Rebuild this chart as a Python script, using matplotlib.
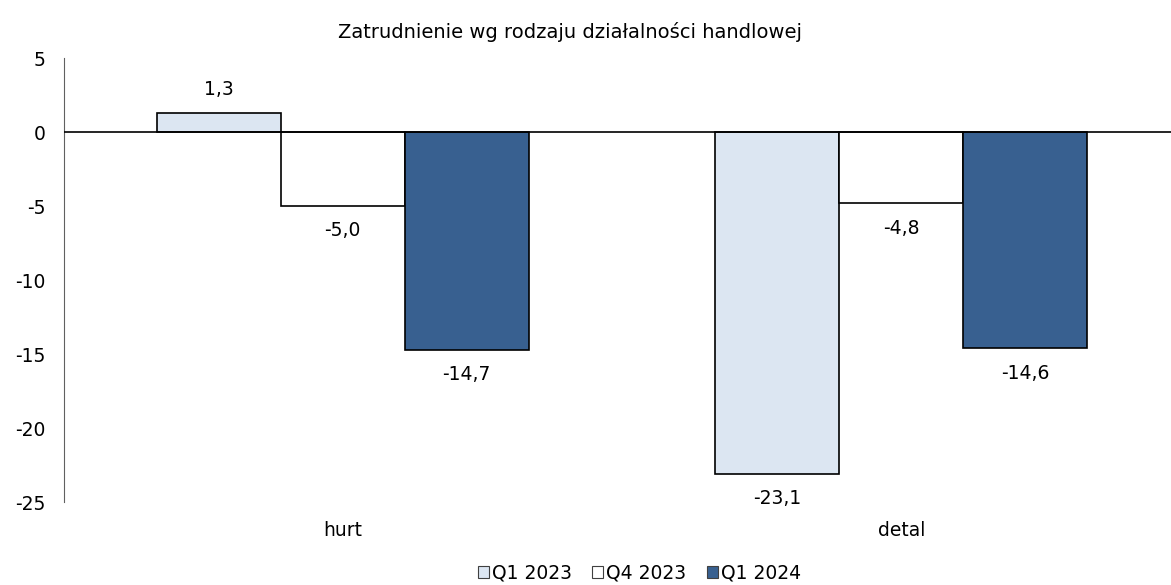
import matplotlib
matplotlib.use('Agg')
import matplotlib.pyplot as plt
import numpy as np

# chart data
categories = ['hurt', 'detal']
series_names = ['Q1 2023', 'Q4 2023', 'Q1 2024']
q1_2023 = [1.3, -23.1]
q4_2023 = [-5.0, -4.8]
q1_2024 = [-14.7, -14.6]
y_ticks = [5, 0, -5, -10, -15, -20, -25]

colors = ['#dce6f2', '#ffffff', '#386090']

plt.rcParams['font.family'] = ['DejaVu Sans']
plt.rcParams['font.size'] = 13.5

fig = plt.figure(figsize=(11.71, 5.85), dpi=100)
# axes spans a bit past the right edge so the groups sit where they do in the source
ax = fig.add_axes([63.5 / 1171, 83 / 585, 1117 / 1171, 444 / 585])

x = np.arange(len(categories))
width = 0.222
for i, (name, vals) in enumerate(zip(series_names, [q1_2023, q4_2023, q1_2024])):
	pos = x + (i - 1) * width
	bars = ax.bar(pos, vals, width, color=colors[i], edgecolor='black', linewidth=1.2,
		label=name, zorder=2)
	for b, v in zip(bars, vals):
		off = 17 if v >= 0 else -18
		ax.annotate(f'{v:.1f}'.replace('.', ','), (b.get_x() + b.get_width() / 2, v),
			xytext=(0, off), textcoords='offset points', ha='center', va='center')

ax.axhline(0, color='black', lw=1.2, zorder=3)
ax.set_xlim(-0.5, 1.5)
ax.set_ylim(-25, 5)
ax.set_yticks(y_ticks)
ax.set_yticklabels([str(t) for t in y_ticks])
ax.tick_params(axis='y', length=0, pad=13)
ax.tick_params(axis='x', length=0, pad=14)
ax.set_xticks(x)
ax.set_xticklabels(categories)

for s in ['top', 'right', 'bottom']:
	ax.spines[s].set_visible(False)
ax.spines['left'].set_color('#606060')

fig.text(0.487, 1 - 32 / 585, 'Zatrudnienie wg rodzaju działalności handlowej',
	ha='center', va='center', fontsize=14)

leg = fig.legend(loc='center', bbox_to_anchor=(0.546, 1 - 573 / 585), ncol=3, frameon=False,
	handlelength=0.6, handleheight=0.6, handletextpad=0.15, columnspacing=1.1)
for h in leg.legend_handles:
	h.set_linewidth(0.8)
	h.set_edgecolor('#404040')

fig.savefig('out.png', dpi=100)
